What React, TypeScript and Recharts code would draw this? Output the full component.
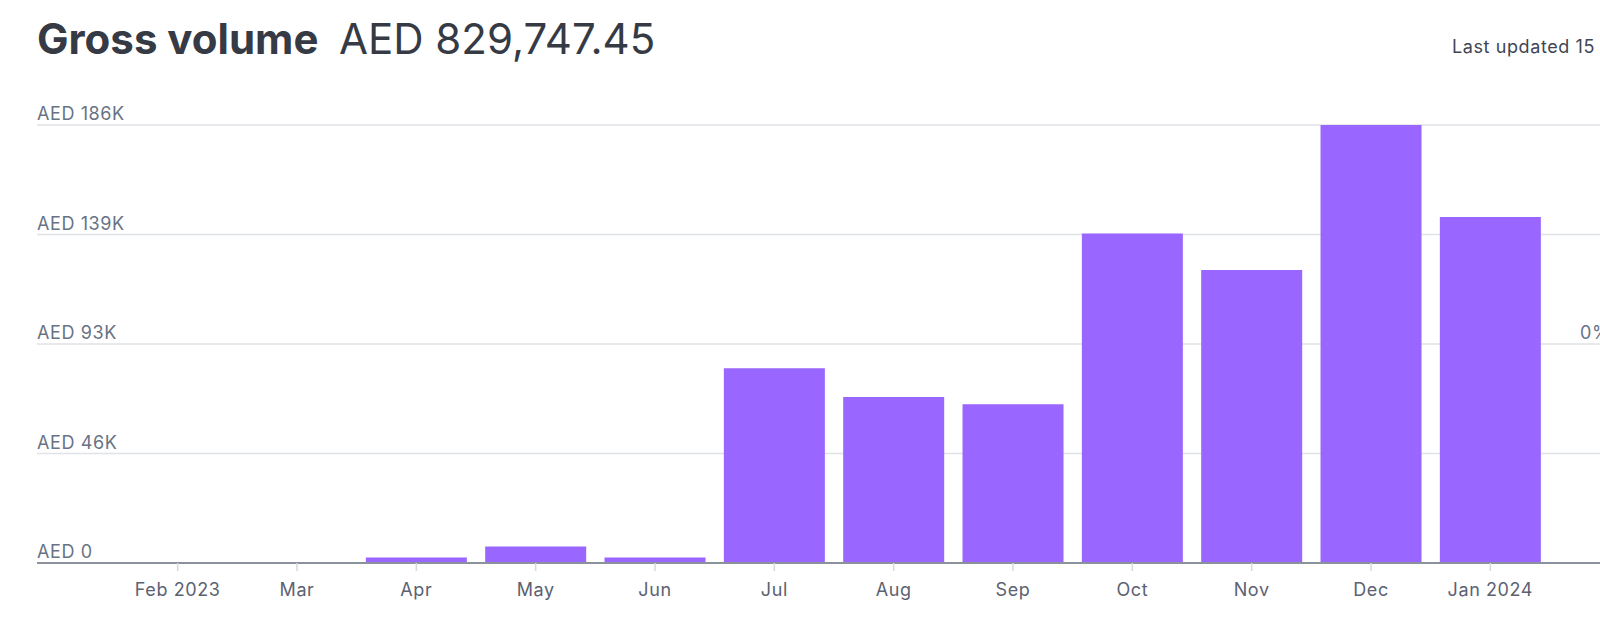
import React from "react";
import { BarChart, Bar, XAxis, YAxis, CartesianGrid, ReferenceLine } from "recharts";

// Monthly gross volume (AED)
const months = ["Feb 2023", "Mar", "Apr", "May", "Jun", "Jul", "Aug", "Sep", "Oct", "Nov", "Dec", "Jan 2024"];
const grossVolume = [0, 0, 2310, 6980, 2290, 82640, 70480, 67390, 139870, 124420, 185950, 146910];

const yTickLabels = ["AED 0", "AED 46K", "AED 93K", "AED 139K", "AED 186K"];
const changeLabel = "0%";

const title = "Gross volume";
const totalLabel = "AED 829,747.45";
const updatedLabel = "Last updated 15";

const yMax = Math.max(...grossVolume);
const yTicks = yTickLabels.map((_, i) => (yMax * i) / (yTickLabels.length - 1));
// the 0% change baseline sits on the middle gridline
const changeBaseline = yTicks[Math.floor(yTicks.length / 2)];

const data = months.map((m, i) => ({ month: m, value: grossVolume[i] }));

const FONT = "Inter, 'Noto Sans', sans-serif";
const BAR = "#9966ff";
const LABEL_STYLE = { fontSize: 18, letterSpacing: 0.6, fontFamily: FONT };

const nearestIndex = (list: number[], v: number) => {
  let best = 0;
  list.forEach((t, i) => {
    if (Math.abs(t - v) < Math.abs(list[best] - v)) best = i;
  });
  return best;
};

const renderLeftTick = (props: any) => {
  const { x, y, payload } = props;
  const label = yTickLabels[nearestIndex(yTicks, Number(payload?.value ?? 0))];
  return (
    <text key={`l-${label}`} x={x} y={y - 5} textAnchor="start" fill="#687385" {...LABEL_STYLE}>
      {label}
    </text>
  );
};

const ChangeLabel = (props: any) => {
  const vb = props.viewBox || {};
  return (
    <text
      x={(vb.x ?? 0) + (vb.width ?? 0) - 120}
      y={(vb.y ?? 0) - 5}
      textAnchor="start"
      fill="#687385"
      {...LABEL_STYLE}
    >
      {changeLabel}
    </text>
  );
};

export default function App() {
  return (
    <div
      style={{
        position: "fixed",
        left: 0,
        top: 0,
        width: 1600,
        height: 617,
        overflow: "hidden",
        background: "#ffffff",
      }}
    >
      <svg width={1600} height={80} style={{ position: "absolute", left: 0, top: 0 }}>
        <text x={37} y={54} fontSize={42} fontWeight={700} fill="#353a44" fontFamily={FONT}>
          {title}
        </text>
        <text x={339} y={54} fontSize={42} fontWeight={400} fill="#353a44" fontFamily={FONT}>
          {totalLabel}
        </text>
        <text x={1452} y={53} fill="#414552" {...LABEL_STYLE}>
          {updatedLabel}
        </text>
      </svg>
      <div style={{ position: "absolute", left: 0, top: 0 }}>
        <BarChart
          width={1700}
          height={617}
          data={data}
          margin={{ top: 125, right: 0, bottom: 0, left: 37 }}
          barCategoryGap="7.7%"
        >
          <CartesianGrid vertical={false} stroke="#dfe2e7" strokeWidth={1.5} yAxisId="gv" />
          <XAxis
            dataKey="month"
            height={54}
            padding={{ left: 81, right: 150 }}
            axisLine={{ stroke: "#8c929c", strokeWidth: 2 }}
            tickLine={{ stroke: "#d5d9de", strokeWidth: 1.5 }}
            tickSize={8}
            tickMargin={12}
            interval={0}
            tick={{ fill: "#5b6271", ...LABEL_STYLE }}
          />
          <YAxis
            yAxisId="gv"
            orientation="left"
            width={1}
            mirror
            domain={[0, yMax]}
            ticks={yTicks}
            interval={0}
            axisLine={false}
            tickLine={false}
            tickSize={0}
            tickMargin={0}
            tick={renderLeftTick}
          />
          <Bar dataKey="value" yAxisId="gv" fill={BAR} isAnimationActive={false} />
          <ReferenceLine
            yAxisId="gv"
            y={changeBaseline}
            stroke="transparent"
            label={<ChangeLabel />}
          />
        </BarChart>
      </div>
    </div>
  );
}
